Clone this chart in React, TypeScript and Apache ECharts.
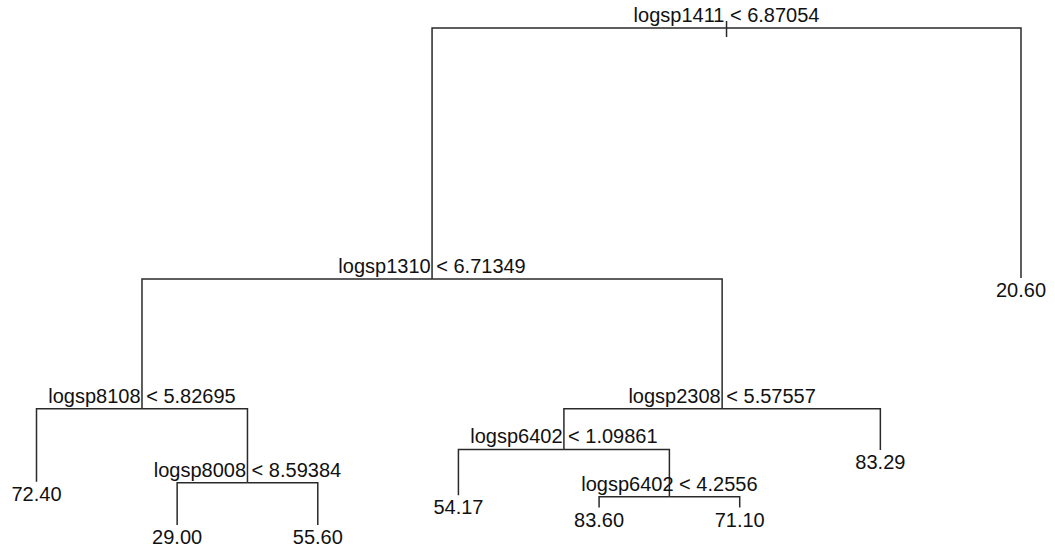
import { useEffect, useRef } from "react";
import * as echarts from "echarts";

// Leaves, left to right (predicted values) and their deviance level (y)
const leafValues = ["72.40", "29.00", "55.60", "54.17", "83.60", "71.10", "83.29", "20.60"];
const leafDeviance = [87, 0, 0, 60, 35, 35, 151, 497];

// Split nodes
const splitVars = ["logsp1411", "logsp1310", "logsp8108", "logsp8008", "logsp2308", "logsp6402", "logsp6402"];
const splitThresholds = ["6.87054", "6.71349", "5.82695", "8.59384", "5.57557", "1.09861", "4.2556"];
const splitDeviance = [1000, 495, 234, 85, 234, 152, 57];
const splitLeft = ["S1", "S2", "L0", "L1", "S5", "L3", "L4"];
const splitRight = ["L7", "S4", "S3", "L2", "L6", "S6", "L5"];

function nodeX(id: string): number {
  const i = Number(id.slice(1));
  if (id[0] === "L") return i + 1;
  return (nodeX(splitLeft[i]) + nodeX(splitRight[i])) / 2;
}
function nodeY(id: string): number {
  const i = Number(id.slice(1));
  return id[0] === "L" ? leafDeviance[i] : splitDeviance[i];
}

const FONT = "'Liberation Sans', Arial, Helvetica, sans-serif";
const FONT_SIZE = 20;
const LINE_COLOR = "#2a2a2a";
const TEXT_COLOR = "#111111";

export default function App() {
  const ref = useRef<HTMLDivElement>(null);
  useEffect(() => {
    document.body.style.margin = "0";
    if (!ref.current) return;
    const chart = echarts.init(ref.current, undefined, { renderer: "svg" });

    const edges: number[][] = [];
    splitLeft.forEach((_, i) => {
      const pid = "S" + i;
      [splitLeft[i], splitRight[i]].forEach((cid) => {
        edges.push([nodeX(cid), nodeY(cid), nodeX(pid), nodeY(pid)]);
      });
    });
    const splitPts = splitVars.map((_, i) => [nodeX("S" + i), nodeY("S" + i)]);
    const leafPts = leafValues.map((_, i) => [nodeX("L" + i), nodeY("L" + i)]);

    chart.setOption({
      animation: false,
      backgroundColor: "#ffffff",
      grid: { left: 36.5, right: 34, top: 28, bottom: 29, containLabel: false },
      xAxis: { type: "value", min: 1, max: 8, show: false },
      yAxis: { type: "value", min: 0, max: 1000, show: false },
      series: [
        {
          type: "custom",
          clip: false,
          silent: true,
          data: edges,
          renderItem: (params: any, api: any) => {
            const c = api.coord([api.value(0), api.value(1)]);
            const p = api.coord([api.value(2), api.value(3)]);
            return {
              type: "polyline",
              shape: { points: [[p[0], p[1]], [c[0], p[1]], [c[0], c[1]]] },
              style: { stroke: LINE_COLOR, lineWidth: 1.5, fill: "none" },
            };
          },
        },
        {
          type: "custom",
          clip: false,
          silent: true,
          data: splitPts,
          renderItem: (params: any, api: any) => {
            const i = params.dataIndex;
            const p = api.coord([api.value(0), api.value(1)]);
            const children: any[] = [
              {
                type: "text",
                x: p[0],
                y: p[1] - 13,
                style: {
                  text: splitVars[i] + " < " + splitThresholds[i],
                  fill: TEXT_COLOR,
                  fontSize: FONT_SIZE,
                  fontFamily: FONT,
                  align: "center",
                  verticalAlign: "middle",
                },
              },
            ];
            if (i === 0) {
              children.push({
                type: "line",
                shape: { x1: p[0], y1: p[1] - 7, x2: p[0], y2: p[1] + 9 },
                style: { stroke: LINE_COLOR, lineWidth: 1.5 },
              });
            }
            return { type: "group", children };
          },
        },
        {
          type: "custom",
          clip: false,
          silent: true,
          data: leafPts,
          renderItem: (params: any, api: any) => {
            const i = params.dataIndex;
            const p = api.coord([api.value(0), api.value(1)]);
            return {
              type: "text",
              x: p[0],
              y: p[1] + 12,
              style: {
                text: leafValues[i],
                fill: TEXT_COLOR,
                fontSize: FONT_SIZE,
                fontFamily: FONT,
                align: "center",
                verticalAlign: "middle",
              },
            };
          },
        },
      ],
    });
    return () => chart.dispose();
  }, []);
  return <div ref={ref} style={{ width: 1055, height: 554 }} />;
}
